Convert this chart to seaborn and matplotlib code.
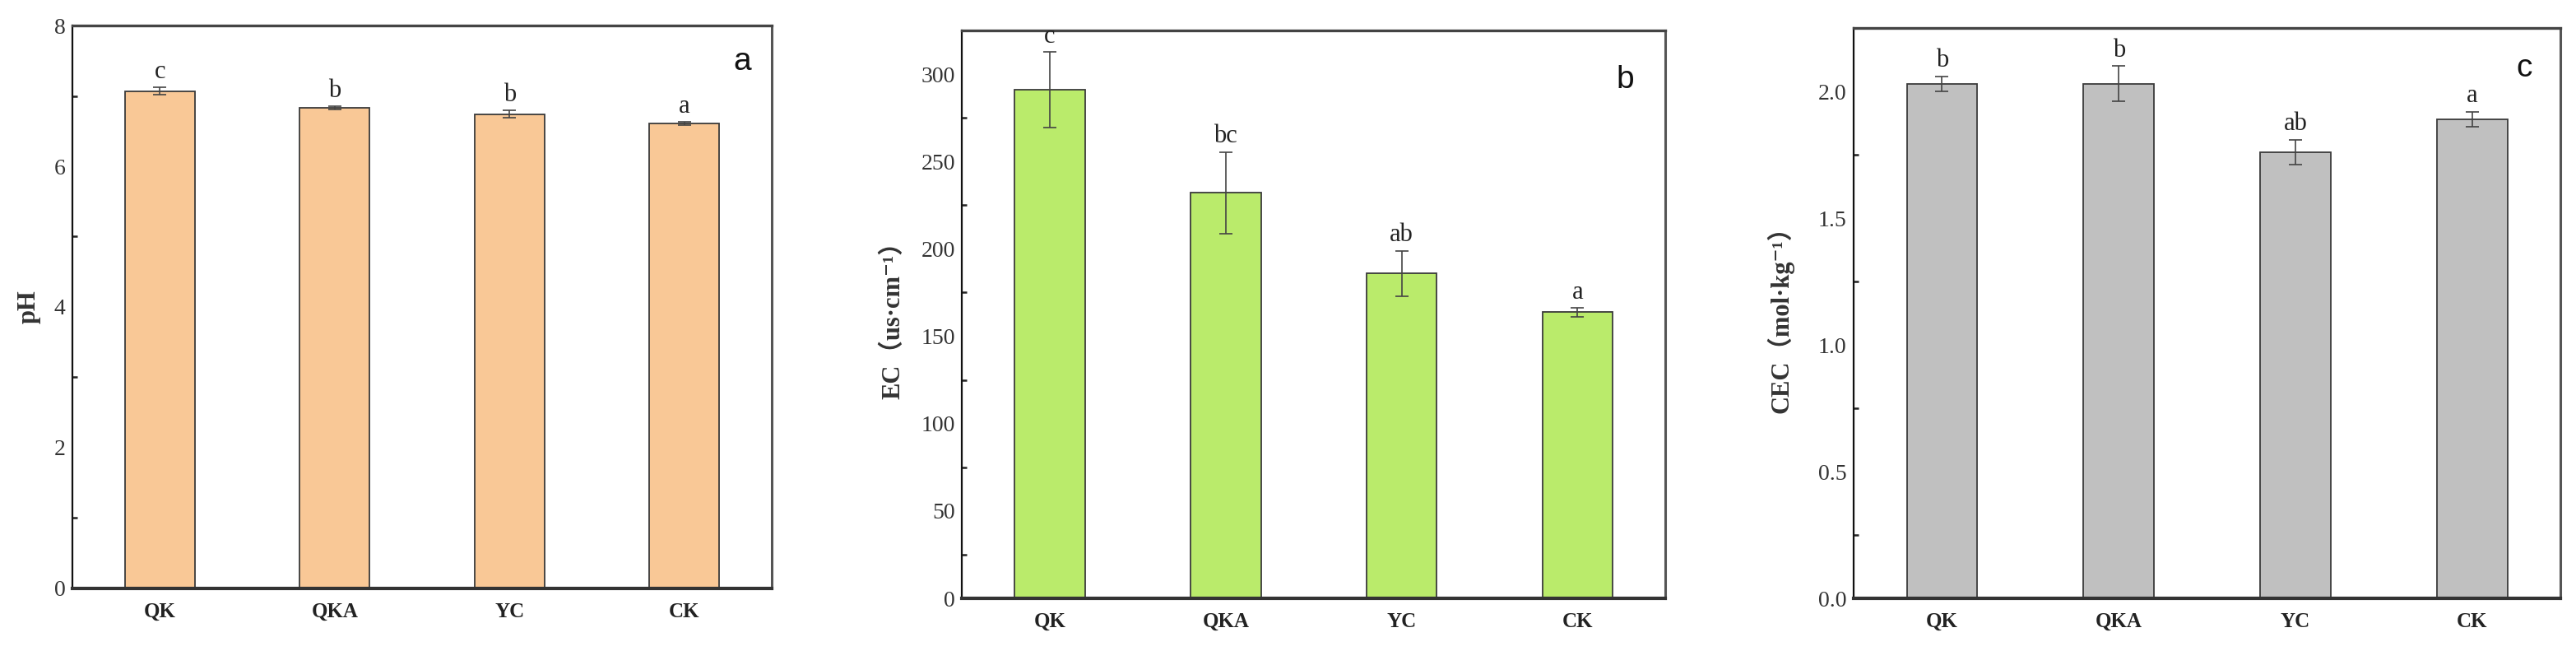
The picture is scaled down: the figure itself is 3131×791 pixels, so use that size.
import numpy as np
import pandas as pd
import matplotlib
matplotlib.use("Agg")
import matplotlib.pyplot as plt
import seaborn as sns
from matplotlib.ticker import MultipleLocator, FormatStrFormatter

categories = ["QK", "QKA", "YC", "CK"]

ph_mean = [7.07, 6.83, 6.74, 6.61]
ph_err = [0.05, 0.02, 0.05, 0.02]
ph_sig = ["c", "b", "b", "a"]

ec_mean = [291.0, 232.0, 186.0, 163.7]
ec_err = [21.7, 23.5, 13.0, 2.4]
ec_sig = ["c", "bc", "ab", "a"]

cec_mean = [2.03, 2.03, 1.76, 1.89]
cec_err = [0.03, 0.07, 0.05, 0.03]
cec_sig = ["b", "b", "ab", "a"]

sns.set_theme(style="white")
plt.rcParams['font.family'] = ['Liberation Serif', 'DejaVu Serif', 'Noto Sans CJK SC']

fig = plt.figure(figsize=(31.31, 7.91), dpi=100)

panels = [
    dict(mean=ph_mean, err=ph_err, sig=ph_sig, color="#F9C896", ylabel="pH",
         ylim=(0, 8), major=2, minor=1, fmt="%d", letter="a",
         rect=[0.0281, 0.0961, 0.2715, 0.8647], lab_x=-0.045, letter_pos=(0.958, 0.935)),
    dict(mean=ec_mean, err=ec_err, sig=ec_sig, color="#BAEB6B", ylabel="EC（us·cm⁻¹）",
         ylim=(0, 325), major=50, minor=25, fmt="%d", letter="b",
         rect=[0.3734, 0.0809, 0.2731, 0.8723], lab_x=-0.08, letter_pos=(0.943, 0.913)),
    dict(mean=cec_mean, err=cec_err, sig=cec_sig, color="#C0C0C0", ylabel="CEC（mol·kg⁻¹）",
         ylim=(0, 2.25), major=0.5, minor=0.25, fmt="%.1f", letter="c",
         rect=[0.7196, 0.0809, 0.2744, 0.8761], lab_x=-0.085, letter_pos=(0.949, 0.929)),
]

for p in panels:
    ax = fig.add_axes(p["rect"])
    df = pd.DataFrame({"group": categories, "value": p["mean"]})
    sns.barplot(data=df, x="group", y="value", order=categories, color=p["color"],
                width=0.4, edgecolor="#3a3a3a", linewidth=1.3, errorbar=None,
                saturation=1, ax=ax)
    pos = np.arange(len(categories))
    ax.errorbar(pos, p["mean"], yerr=p["err"], fmt="none", ecolor="#444444",
                elinewidth=1.2, capsize=6, capthick=1.2, zorder=5)
    for x, m, e, s in zip(pos, p["mean"], p["err"], p["sig"]):
        ax.annotate(s, xy=(x, m + e), xytext=(0, 3), textcoords="offset points",
                    ha="center", va="bottom", fontsize=22, color="#222222")
    ax.set_xlim(-0.5, len(categories) - 0.5)
    ax.set_ylim(*p["ylim"])
    ax.yaxis.set_major_locator(MultipleLocator(p["major"]))
    ax.yaxis.set_minor_locator(MultipleLocator(p["minor"]))
    ax.yaxis.set_major_formatter(FormatStrFormatter(p["fmt"]))
    ax.tick_params(axis="y", which="major", direction="in", length=9, width=2,
                   labelsize=20, colors="#222222", labelcolor="#333333", pad=6)
    ax.tick_params(axis="y", which="minor", direction="in", length=4, width=1.8,
                   colors="#222222", left=True)
    ax.tick_params(axis="x", which="both", length=0, labelsize=18, pad=12)
    for lab in ax.get_xticklabels():
        lab.set_fontweight("bold")
        lab.set_color("#222222")
    ax.set_xlabel("")
    ax.set_ylabel(p["ylabel"], fontsize=22, fontweight="bold", color="#333333")
    ax.yaxis.set_label_coords(p["lab_x"], 0.5)
    ax.spines["left"].set_linewidth(1.6)
    ax.spines["left"].set_color("#111111")
    ax.spines["top"].set_linewidth(2.4)
    ax.spines["top"].set_color("#444444")
    ax.spines["right"].set_linewidth(2.2)
    ax.spines["right"].set_color("#555555")
    ax.spines["bottom"].set_linewidth(3.0)
    ax.spines["bottom"].set_color("#333333")
    ax.text(p["letter_pos"][0], p["letter_pos"][1], p["letter"], transform=ax.transAxes,
            fontsize=28, family=["Liberation Sans", "DejaVu Sans"], ha="center", va="center",
            color="#111111")
    ax.grid(False)

fig.savefig("out.png", dpi=100, facecolor="white")
